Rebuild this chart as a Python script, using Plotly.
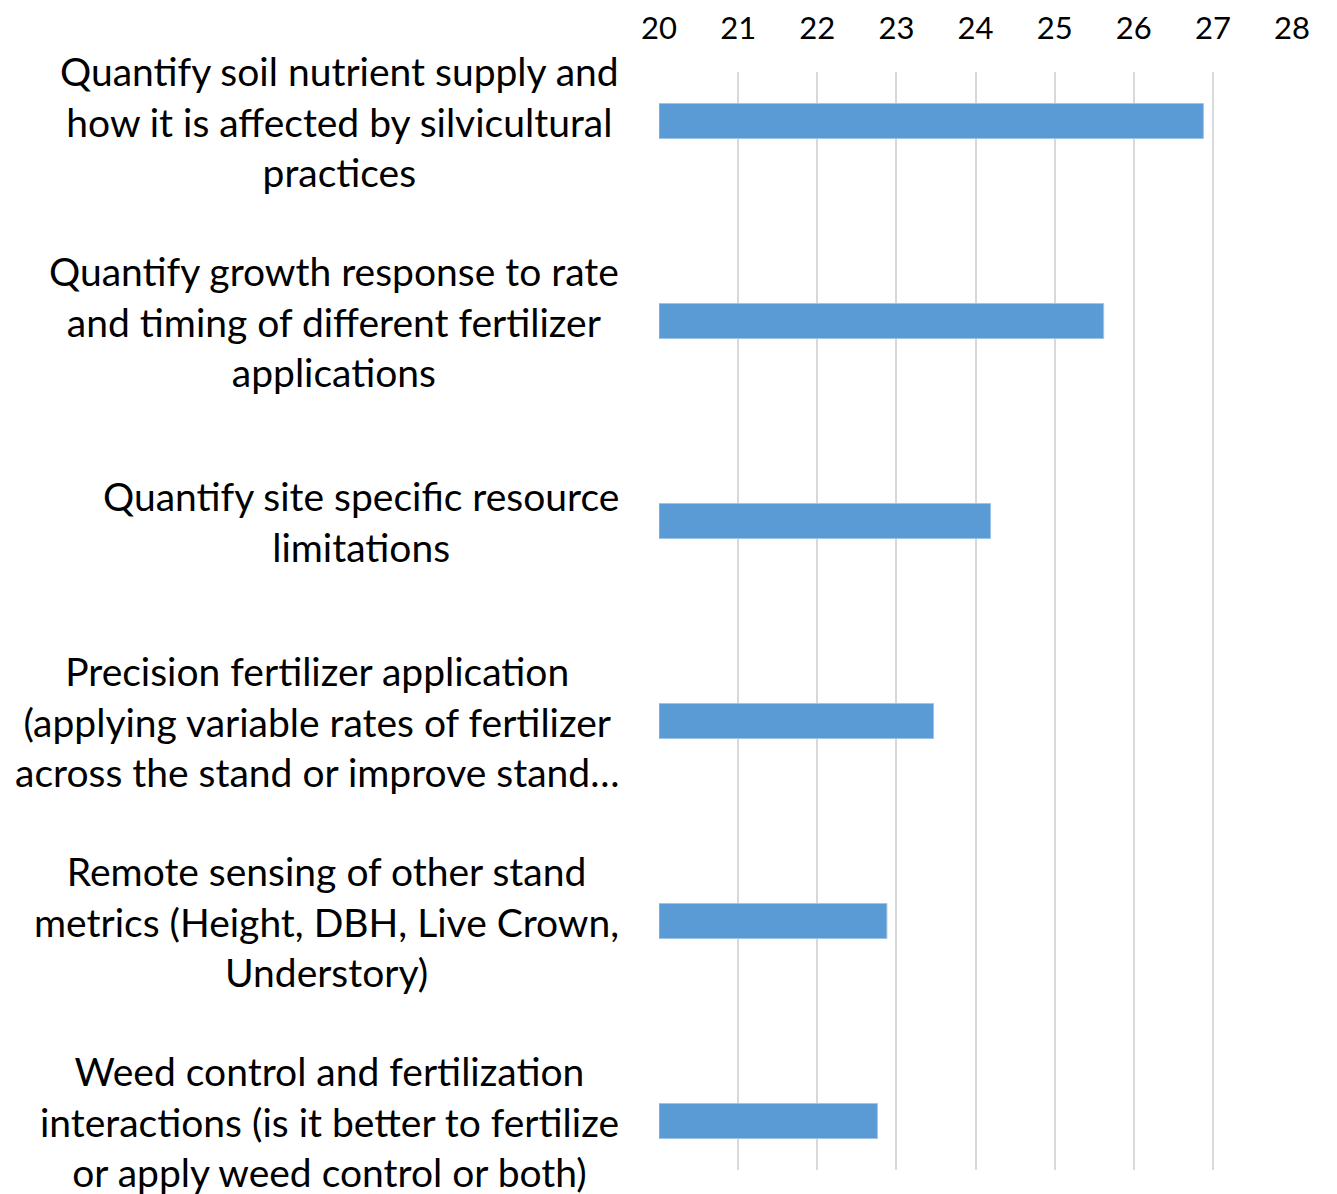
import plotly.graph_objects as go

CATEGORIES = [
    "Quantify soil nutrient supply and<br>how it is affected by silvicultural<br>practices",
    "Quantify growth response to rate<br>and timing of different fertilizer<br>applications",
    "Quantify site specific resource<br>limitations",
    "Precision fertilizer application<br>(applying variable rates of fertilizer<br>across the stand or improve stand…",
    "Remote sensing of other stand<br>metrics (Height, DBH, Live Crown,<br>Understory)",
    "Weed control and fertilization<br>interactions (is it better to fertilize<br>or apply weed control or both)",
]
VALUES = [26.88, 25.62, 24.19, 23.47, 22.88, 22.76]
X_TICKS = [20, 21, 22, 23, 24, 25, 26, 27, 28]

FONT = "Lato"
BAR_COLOR = "#5B9BD5"

fig = go.Figure()
fig.add_trace(go.Bar(
    x=[v - 20 for v in VALUES],
    base=20,
    y=list(range(len(CATEGORIES))),
    orientation="h",
    width=0.175,
    marker=dict(color=BAR_COLOR, line=dict(color="#9DC3E6", width=1)),
    hoverinfo="skip",
))

for i, label in enumerate(CATEGORIES):
    fig.add_annotation(
        x=0, xref="paper", y=i, yref="y",
        text=label, showarrow=False,
        xanchor="right", yanchor="middle", align="center",
        xshift=-38,
        font=dict(family=FONT, size=39, color="#000000"),
    )

# page body adds an 8px offset, so the figure is drawn 8px smaller
fig.update_layout(
    width=1329, height=1186,
    margin=dict(l=651, r=45, t=64, b=24, autoexpand=False),
    plot_bgcolor="white",
    paper_bgcolor="white",
    showlegend=False,
    xaxis=dict(
        side="top",
        range=[20, 28],
        tickvals=X_TICKS,
        ticktext=[str(t) for t in X_TICKS],
        showgrid=True,
        gridcolor="#D9D9D9",
        gridwidth=1.5,
        zeroline=False,
        showline=False,
        ticks="",
        automargin=False,
        ticklabelstandoff=26,
        tickfont=dict(family=FONT, size=31, color="#000000"),
    ),
    yaxis=dict(
        range=[5.245, -0.245],
        showticklabels=False,
        showgrid=False,
        zeroline=False,
        showline=False,
        ticks="",
        automargin=False,
    ),
)

fig.write_html("out.html")
